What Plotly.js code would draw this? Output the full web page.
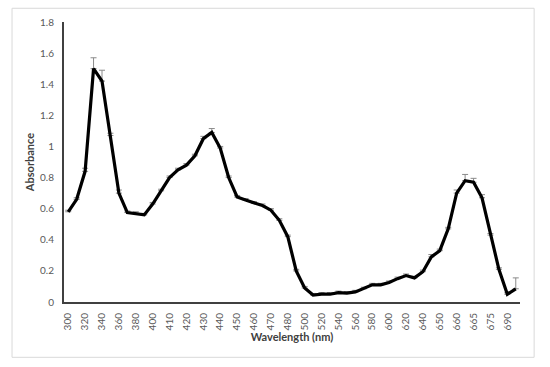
<!DOCTYPE html>
<html>
<head>
<meta charset="utf-8">
<script src="https://cdn.plot.ly/plotly-3.0.1.min.js"></script>
<style>
  body { margin: 0; background: #fff; }
  #chart { width: 550px; height: 367px; }
</style>
</head>
<body>
<div id="chart"></div>
<script>
// wavelength categories (only every other one gets a label, like the original)
let wavelengths = ["300","310","320","330","340","350","360","370","380","390",
                   "400","405","410","415","420","425","430","435","440","445",
                   "450","455","460","465","470","475","480","490","500","510",
                   "520","530","540","550","560","570","580","590","600","610",
                   "620","630","640","645","650","655","660","663","665","670",
                   "675","680","690","700"];

let absorbance = [0.58, 0.66, 0.84, 1.50, 1.42, 1.07, 0.70, 0.575, 0.57, 0.56,
                  0.63, 0.715, 0.80, 0.85, 0.88, 0.94, 1.05, 1.09, 0.99, 0.80,
                  0.675, 0.655, 0.635, 0.62, 0.59, 0.525, 0.42, 0.20, 0.09, 0.045,
                  0.05, 0.05, 0.06, 0.057, 0.065, 0.085, 0.11, 0.11, 0.125, 0.15,
                  0.17, 0.155, 0.195, 0.29, 0.33, 0.47, 0.70, 0.78, 0.77, 0.67,
                  0.43, 0.21, 0.05, 0.085];

let errPlus = [0.01, 0.01, 0.02, 0.07, 0.07, 0.015, 0.02, 0.01, 0.01, 0.01,
               0.01, 0.01, 0.01, 0.01, 0.01, 0.01, 0.015, 0.025, 0.01, 0.01,
               0.01, 0.01, 0.01, 0.01, 0.01, 0.01, 0.01, 0.01, 0.01, 0.01,
               0.01, 0.01, 0.01, 0.01, 0.01, 0.01, 0.01, 0.01, 0.01, 0.01,
               0.01, 0.01, 0.01, 0.015, 0.01, 0.01, 0.02, 0.04, 0.025, 0.02,
               0.01, 0.01, 0.01, 0.07];

let yTicks = [0, 0.2, 0.4, 0.6, 0.8, 1, 1.2, 1.4, 1.6, 1.8];

let shownTicks = wavelengths.filter(function(w, i){ return i % 2 == 0; });

let fontName = "Lato, 'Liberation Sans', sans-serif";

var trace = {
    x: wavelengths,
    y: absorbance,
    type: 'scatter',
    mode: 'lines',
    line: {color: '#000000', width: 3.2},
    error_y: {
        type: 'data',
        symmetric: false,
        array: errPlus,
        arrayminus: errPlus.map(function(){ return 0; }),
        color: '#8a8a8a',
        thickness: 1,
        width: 3
    },
    hoverinfo: 'x+y'
};

var layout = {
    width: 550,
    height: 367,
    autosize: false,
    showlegend: false,
    paper_bgcolor: '#ffffff',
    plot_bgcolor: '#ffffff',
    margin: {l: 64, r: 30, t: 22, b: 65, pad: 0},
    font: {family: fontName, size: 10, color: '#595959'},
    xaxis: {
        type: 'category',
        range: [-0.5, wavelengths.length - 0.5],
        tickvals: shownTicks,
        ticktext: shownTicks,
        tickangle: -90,
        ticks: '',
        ticklabelstandoff: 5,
        showgrid: false,
        zeroline: false,
        showline: true,
        linecolor: '#404040',
        linewidth: 2,
        tickfont: {size: 10, color: '#595959'},
        title: {text: '<b>Wavelength (nm)</b>', font: {size: 11, color: '#404040'}, standoff: 3}
    },
    yaxis: {
        range: [0, 1.8],
        tickvals: yTicks,
        ticks: '',
        ticklabelstandoff: 6,
        showgrid: false,
        zeroline: false,
        showline: true,
        linecolor: '#404040',
        linewidth: 2,
        tickfont: {size: 10, color: '#595959'},
        title: {text: '<b>Absorbance</b>', font: {size: 11, color: '#404040'}, standoff: 3}
    },
    shapes: [{
        type: 'rect',
        xref: 'paper', yref: 'paper',
        x0: -0.114, x1: 1.031, y0: -0.1975, y1: 1.049,
        line: {color: '#d9d9d9', width: 1},
        layer: 'below'
    }]
};

Plotly.newPlot('chart', [trace], layout, {staticPlot: true});
</script>
</body>
</html>
